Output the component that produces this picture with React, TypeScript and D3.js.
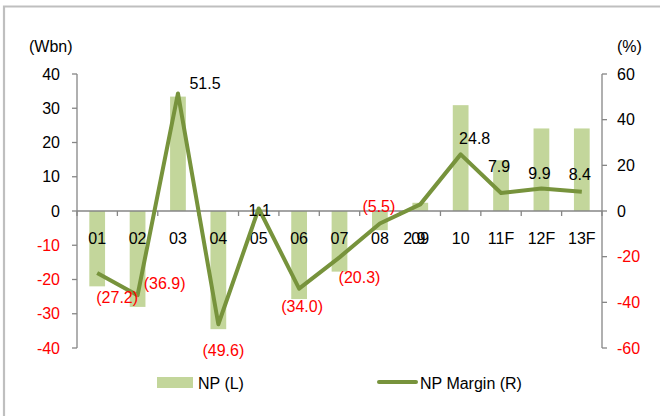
import React from "react";
import * as d3 from "d3";

// Net profit (Wbn, left axis) and net margin (%, right axis)
const categories = ["01", "02", "03", "04", "05", "06", "07", "08", "09", "10", "11F", "12F", "13F"];
const npValues = [-22, -28, 33.4, -34.5, 0.5, -25.7, -17.7, -5.6, 2.4, 30.9, 14.8, 24.1, 24.1];
const marginValues = [-27.2, -36.9, 51.5, -49.6, 1.1, -34.0, -20.3, -5.5, 2.9, 24.8, 7.9, 9.9, 8.4];
const leftTicks = [40, 30, 20, 10, 0, -10, -20, -30, -40];
const rightTicks = [60, 40, 20, 0, -20, -40, -60];

// Label offsets from each margin point (centre x, baseline y)
const labelOffsets: [number, number][] = [
  [20, 30], [27, -6], [27, -4], [5, 32], [1, 8], [3, 23], [20, 26],
  [-1, -12], [-6, 40], [14, -10], [-2, -21], [-2, -9], [-2, -12],
];

const W = 660;
const H = 416;
const left = 77;
const right = 602;
const top = 74;
const bottom = 348;

const FONT = "'Liberation Sans', Arial, sans-serif";
const AXIS = "#868686";
const BAR = "#c3d69b";
const LINE = "#77933c";
const RED = "#ff0000";

const fmt = (v: number) => (v < 0 ? `(${Math.abs(v).toFixed(1)})` : v.toFixed(1));

export default function App() {
  const x = d3.scaleBand<string>().domain(categories).range([left, right]).padding(0);
  const yL = d3.scaleLinear().domain([-40, 40]).range([bottom, top]);
  const yR = d3.scaleLinear().domain([-60, 60]).range([bottom, top]);
  const bw = x.bandwidth();
  const barW = bw * 0.39;
  const cx = (c: string) => (x(c) ?? 0) + bw / 2;
  const zeroY = yL(0);

  const line = d3
    .line<number>()
    .x((_, i) => cx(categories[i]))
    .y((v) => yR(v));

  const boundaries = d3.range(categories.length + 1).map((i) => left + i * bw);

  return (
    <svg
      width={W}
      height={H}
      style={{ position: "absolute", left: 0, top: 0, background: "#fff" }}
      fontFamily={FONT}
      fontSize={16}
    >
      <rect x={0} y={0} width={W} height={H} fill="#fff" />
      {/* outer frame */}
      <path d={`M4,${H} L4,6.5 L${W},6.5`} fill="none" stroke="#bfbfbf" strokeWidth={2.2} />

      {/* bars */}
      {npValues.map((v, i) => (
        <rect
          key={categories[i]}
          x={cx(categories[i]) - barW / 2}
          y={Math.min(yL(v), zeroY)}
          width={barW}
          height={Math.abs(yL(v) - zeroY)}
          fill={BAR}
        />
      ))}

      {/* left axis */}
      <line x1={left} x2={left} y1={top} y2={bottom} stroke={AXIS} strokeWidth={1.3} />
      {leftTicks.map((t) => (
        <g key={`l${t}`}>
          <line x1={left - 5} x2={left} y1={yL(t)} y2={yL(t)} stroke={AXIS} strokeWidth={1.3} />
          <text x={60} y={yL(t)} dy="0.35em" textAnchor="end" fill={t < 0 ? RED : "#000"}>
            {t}
          </text>
        </g>
      ))}

      {/* right axis */}
      <line x1={right} x2={right} y1={top} y2={bottom} stroke={AXIS} strokeWidth={1.3} />
      {rightTicks.map((t) => (
        <g key={`r${t}`}>
          <line x1={right} x2={right + 5} y1={yR(t)} y2={yR(t)} stroke={AXIS} strokeWidth={1.3} />
          <text x={617} y={yR(t)} dy="0.35em" textAnchor="start" fill={t < 0 ? RED : "#000"}>
            {t}
          </text>
        </g>
      ))}

      {/* category axis at zero */}
      <line x1={left} x2={right} y1={zeroY} y2={zeroY} stroke={AXIS} strokeWidth={1.3} />
      {boundaries.map((b, i) => (
        <line key={`b${i}`} x1={b} x2={b} y1={zeroY} y2={zeroY + 5} stroke={AXIS} strokeWidth={1.3} />
      ))}
      {categories.map((c) => (
        <text key={`c${c}`} x={cx(c)} y={244} textAnchor="middle" fill="#000">
          {c}
        </text>
      ))}

      {/* margin line */}
      <path d={line(marginValues) ?? ""} fill="none" stroke={LINE} strokeWidth={4} strokeLinejoin="round" />

      {/* margin labels */}
      {marginValues.map((v, i) => (
        <text
          key={`m${i}`}
          x={cx(categories[i]) + labelOffsets[i][0]}
          y={yR(v) + labelOffsets[i][1]}
          textAnchor="middle"
          fill={v < 0 ? RED : "#000"}
        >
          {fmt(v)}
        </text>
      ))}

      {/* axis units */}
      <text x={29} y={52} fill="#000">(Wbn)</text>
      <text x={617} y={52} fill="#000">(%)</text>

      {/* legend */}
      <rect x={157} y={377} width={36} height={11} fill={BAR} />
      <text x={198} y={389} fill="#000">NP (L)</text>
      <line x1={379} x2={416} y1={382} y2={382} stroke={LINE} strokeWidth={4} strokeLinecap="round" />
      <text x={420} y={389} fill="#000">NP Margin (R)</text>
    </svg>
  );
}
